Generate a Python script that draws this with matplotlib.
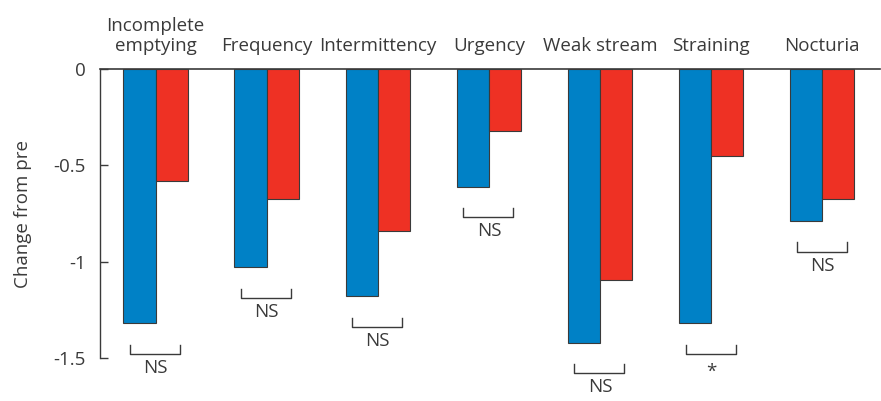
import numpy as np
import matplotlib
matplotlib.use("Agg")
import matplotlib.pyplot as plt

categories = ["Incomplete\nemptying", "Frequency", "Intermittency", "Urgency",
              "Weak stream", "Straining", "Nocturia"]
blue_vals = [-1.32, -1.03, -1.18, -0.61, -1.42, -1.32, -0.79]
red_vals = [-0.58, -0.675, -0.84, -0.32, -1.095, -0.45, -0.675]
sig_labels = ["NS", "NS", "NS", "NS", "NS", "*", "NS"]
yticks = [0, -0.5, -1, -1.5]
ytick_labels = ["0", "-0.5", "-1", "-1.5"]

blue = "#0081C6"
red = "#EE3124"
dark = "#3a3a3a"
fs = 13.5

plt.rcParams['font.family'] = ['Open Sans', 'DejaVu Sans']

fig = plt.figure(figsize=(8.81, 4.01), dpi=100)
ax = fig.add_axes([100/881, 1 - 358/401, 780/881, (358 - 69)/401])

x = np.arange(len(categories))
w = 0.29
ax.bar(x - w/2, blue_vals, w, color=blue, edgecolor=dark, linewidth=0.8)
ax.bar(x + w/2, red_vals, w, color=red, edgecolor=dark, linewidth=0.8)

ax.set_xlim(-0.5, 6.52)
ax.set_ylim(-1.5, 0)

# significance brackets below each pair
for i in range(len(categories)):
    top = blue_vals[i] - 0.11
    bot = blue_vals[i] - 0.16
    xl, xr = x[i] - 0.23, x[i] + 0.22
    ax.plot([xl, xl, xr, xr], [top, bot, bot, top], color=dark, lw=1.0, clip_on=False)
    off = 0.045 if sig_labels[i] == "*" else 0.025
    ax.text(x[i], bot - off, sig_labels[i], ha='center', va='top', fontsize=fs,
            color=dark, clip_on=False)

# category labels above the zero line
for i, c in enumerate(categories):
    ax.text(x[i], 0.075, c, ha='center', va='bottom', fontsize=fs, color=dark,
            linespacing=1.1, clip_on=False)

ax.set_yticks(yticks)
ax.set_yticklabels(ytick_labels, fontsize=fs, color=dark)
ax.tick_params(axis='y', direction='in', length=6, width=1, colors=dark, pad=10)
ax.set_xticks([])
ax.set_ylabel("Change from pre", fontsize=fs, color=dark, labelpad=16)

for s in ['right', 'bottom']:
    ax.spines[s].set_visible(False)
ax.spines['left'].set_color(dark)
ax.spines['top'].set_color(dark)
ax.spines['top'].set_linewidth(1.2)
ax.spines['left'].set_linewidth(1.0)

fig.savefig("out.png", dpi=100)
